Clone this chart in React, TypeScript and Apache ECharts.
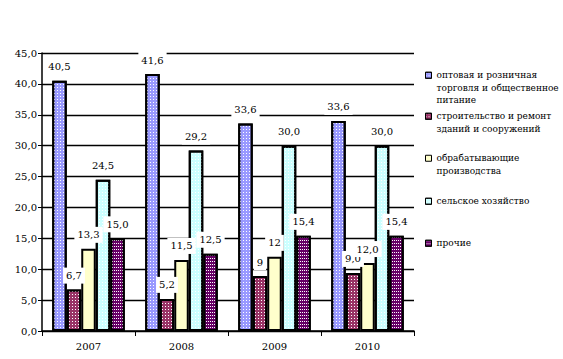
import React, { useEffect, useRef } from "react";
import * as echarts from "echarts";

const categories = ["2007", "2008", "2009", "2010"];
const seriesNames = [
  "оптовая и розничная\nторговля и общественное\nпитание",
  "строительство и ремонт\nзданий и сооружений",
  "обрабатывающие\nпроизводства",
  "сельское хозяйство",
  "прочие",
];
const trade = [40.5, 41.6, 33.6, 34.0];
const construction = [6.7, 5.2, 8.9, 9.4];
const manufacturing = [13.3, 11.5, 12.0, 11.0];
const agriculture = [24.5, 29.2, 30.0, 30.0];
const other = [15.0, 12.5, 15.4, 15.4];
const tradeLabels = ["40,5", "41,6", "33,6", "33,6"];
const constructionLabels = ["6,7", "5,2", "9", "9,0"];
const manufacturingLabels = ["13,3", "11,5", "12", "12,0"];
const agricultureLabels = ["24,5", "29,2", "30,0", "30,0"];
const otherLabels = ["15,0", "12,5", "15,4", "15,4"];
const yTicks = [0, 5, 10, 15, 20, 25, 30, 35, 40, 45];

const colors = ["#9999FF", "#993366", "#FFFFCC", "#CCFFFF", "#660066"];
const legendFirstLineTops = [69, 110, 152, 195, 237];
const LH = 12.5;
const serif = "DejaVu Serif";

export default function App() {
  const ref = useRef<HTMLDivElement>(null);
  useEffect(() => {
    document.body.style.margin = "0";
    const chart = echarts.init(ref.current!, null, { renderer: "svg" });
    const values = [trade, construction, manufacturing, agriculture, other];
    const labels = [tradeLabels, constructionLabels, manufacturingLabels, agricultureLabels, otherLabels];
    const dot = { symbol: "rect", symbolSize: 1, color: "#ffffff", dashArrayX: [1, 2], dashArrayY: [1, 2], rotation: 0 };
    const decals: any[] = [
      dot,
      dot,
      null,
      dot,
      { symbol: "rect", symbolSize: 1, color: "#ffffff", dashArrayX: [1, 1], dashArrayY: [1, 2], rotation: 0 },
    ];
    chart.setOption({
      animation: false,
      backgroundColor: "#ffffff",
      textStyle: { fontFamily: serif },
      grid: { left: 42, top: 53, right: 149, bottom: 28, containLabel: false },
      legend: seriesNames.map((n, i) => {
        const lines = n.split("\n").length;
        return {
          data: [n],
          left: 425,
          top: legendFirstLineTops[i] - (lines - 1) * LH,
          orient: "vertical",
          itemWidth: 6,
          itemHeight: 6,
          itemGap: 0,
          padding: 0,
          selectedMode: false,
          icon: "rect",
          itemStyle: { borderColor: "#000", borderWidth: 1 },
          formatter: (name: string) => "\n".repeat(lines - 1) + name,
          textStyle: {
            fontFamily: serif,
            fontSize: 9,
            lineHeight: LH,
            color: "#000",
          },
        };
      }),
      xAxis: {
        type: "category",
        data: categories,
        axisLine: { lineStyle: { color: "#000", width: 1.5 } },
        axisTick: { show: true, lineStyle: { color: "#000" }, length: 5 },
        axisLabel: { fontFamily: serif, fontSize: 10, color: "#000", margin: 10 },
      },
      yAxis: {
        type: "value",
        min: 0,
        max: 45,
        interval: 5,
        axisLine: { show: true, lineStyle: { color: "#000", width: 1.5 } },
        axisTick: { show: true, lineStyle: { color: "#000" }, length: 4 },
        splitLine: { lineStyle: { color: "#000", width: 1.3 } },
        axisLabel: {
          fontFamily: serif,
          fontSize: 10,
          color: "#000",
          margin: 5,
          formatter: (v: number) => (yTicks.includes(v) ? v.toFixed(1).replace(".", ",") : ""),
        },
      },
      series: seriesNames.map((n, i) => ({
        name: n,
        type: "bar",
        data: values[i],
        barGap: "0%",
        barCategoryGap: "22%",
        itemStyle: {
          color: colors[i],
          borderColor: "#000",
          borderWidth: 2,
          decal: decals[i] || undefined,
        },
        label: {
          show: true,
          position: "top",
          distance: 6,
          fontFamily: serif,
          fontSize: 10,
          color: "#000",
          backgroundColor: "#fff",
          padding: [3, 3],
          formatter: (p: any) => labels[i][p.dataIndex],
        },
      })),
    });
    return () => chart.dispose();
  }, []);
  return <div ref={ref} style={{ width: 563, height: 359 }} />;
}
